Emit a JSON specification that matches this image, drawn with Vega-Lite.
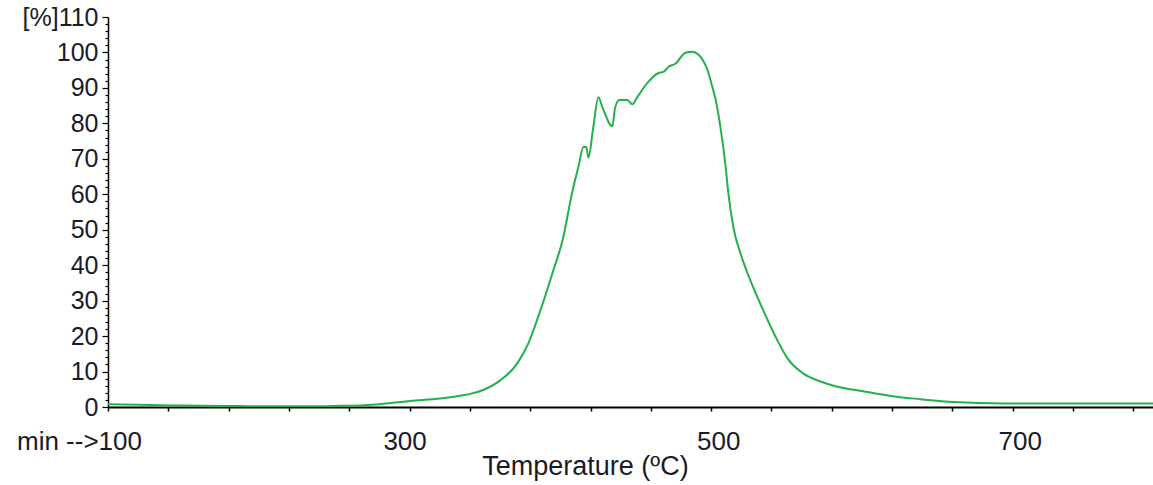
{
  "$schema": "https://vega.github.io/schema/vega-lite/v6.json",
  "width": 1045,
  "height": 390,
  "autosize": {"type": "none"},
  "padding": {"left": 108, "top": 17, "right": 0, "bottom": 78},
  "background": "white",
  "config": {
    "view": {"stroke": null},
    "axis": {"labelFont": "Liberation Sans", "titleFont": "Liberation Sans", "labelColor": "#1a1a2a", "titleColor": "#1a1a2a", "grid": false, "domainColor": "black", "tickColor": "black"}
  },
  "data": {"values": [
    {"t": 100, "v": 0.8}, {"t": 120, "v": 0.6}, {"t": 150, "v": 0.4}, {"t": 180, "v": 0.3},
    {"t": 200, "v": 0.2}, {"t": 230, "v": 0.2}, {"t": 250, "v": 0.3}, {"t": 270, "v": 0.5},
    {"t": 282.5, "v": 0.9}, {"t": 300.4, "v": 1.7}, {"t": 320.3, "v": 2.4}, {"t": 333.6, "v": 3.2},
    {"t": 340.2, "v": 3.7}, {"t": 348.8, "v": 4.8}, {"t": 360.1, "v": 7.5}, {"t": 371.4, "v": 12.3},
    {"t": 378.7, "v": 17.9}, {"t": 386.7, "v": 27.2}, {"t": 395.3, "v": 38.5}, {"t": 401.9, "v": 47.8},
    {"t": 406.6, "v": 58.0}, {"t": 408.6, "v": 62.0}, {"t": 411.9, "v": 67.6}, {"t": 415.3, "v": 73.3},
    {"t": 417.2, "v": 73.3}, {"t": 418.6, "v": 70.4}, {"t": 421.8, "v": 78.9}, {"t": 425.2, "v": 87.4},
    {"t": 427.8, "v": 84.6}, {"t": 434.4, "v": 79.2}, {"t": 436.4, "v": 84.6}, {"t": 439.1, "v": 86.6},
    {"t": 444.4, "v": 86.6}, {"t": 447.7, "v": 85.4}, {"t": 451.0, "v": 87.4}, {"t": 457.7, "v": 91.4},
    {"t": 465.0, "v": 94.2}, {"t": 468.3, "v": 94.5}, {"t": 471.6, "v": 95.9}, {"t": 476.2, "v": 96.8},
    {"t": 482.9, "v": 99.9}, {"t": 487.5, "v": 100.2}, {"t": 491.5, "v": 99.4}, {"t": 494.8, "v": 97.6},
    {"t": 497.5, "v": 95.2}, {"t": 500.8, "v": 90.2}, {"t": 502.8, "v": 87.0}, {"t": 506.1, "v": 79.0},
    {"t": 509.4, "v": 68.5}, {"t": 511.4, "v": 60.3}, {"t": 514.7, "v": 50.7}, {"t": 519.4, "v": 43.4},
    {"t": 526.0, "v": 35.7}, {"t": 534.6, "v": 27.2}, {"t": 543.9, "v": 18.8}, {"t": 550.6, "v": 13.7},
    {"t": 561.2, "v": 9.4}, {"t": 572.5, "v": 7.2}, {"t": 583, "v": 5.8}, {"t": 600, "v": 4.5},
    {"t": 618.9, "v": 3.1}, {"t": 638.8, "v": 2.2}, {"t": 660.7, "v": 1.4}, {"t": 693.9, "v": 1.0},
    {"t": 740, "v": 1.0}, {"t": 793, "v": 1.0}
  ]},
  "mark": {"type": "line", "color": "#22b14c", "strokeWidth": 2, "interpolate": "monotone", "clip": true},
  "encoding": {
    "x": {
      "field": "t", "type": "quantitative",
      "scale": {"domain": [100, 793], "nice": false, "zero": false},
      "axis": {
        "title": "Temperature (ºC)",
        "titleFontSize": 27, "titleFontWeight": "normal",
        "titleX": 477, "titleY": 59, "titleBaseline": "middle", "titleAlign": "center",
        "values": [100,140,180,220,260,300,340,380,420,460,500,540,580,620,660,700,740,780],
        "labelExpr": "datum.value == 100 ? 'min -->100' : ((datum.value == 300 || datum.value == 500 || datum.value == 700) ? datum.label : '')",
        "labelOffset": {"condition": [{"test": "datum.value == 100", "value": -29}, {"test": "datum.value == 300", "value": -5}], "value": 7},
        "labelFontSize": 26, "labelPadding": 17, "labelOverlap": false, "labelFlush": false, "labelBound": false,
        "tickSize": 4, "tickWidth": 1.5, "domainWidth": 2
      }
    },
    "y": {
      "field": "v", "type": "quantitative",
      "scale": {"domain": [0, 110], "nice": false},
      "axis": {
        "title": null,
        "values": [0,2,4,6,8,10,12,14,16,18,20,22,24,26,28,30,32,34,36,38,40,42,44,46,48,50,52,54,56,58,60,62,64,66,68,70,72,74,76,78,80,82,84,86,88,90,92,94,96,98,100,102,104,106,108,110],
        "labelExpr": "datum.value % 10 == 0 ? (datum.value == 110 ? '[%]110' : datum.label) : ''",
        "tickSize": {"condition": {"test": "datum.value % 10 == 0", "value": 6}, "value": 3},
        "labelFontSize": 25, "labelPadding": 4, "labelOverlap": false, "labelFlush": false, "labelBound": false,
        "tickWidth": 1.2, "domainWidth": 1.5
      }
    }
  }
}
